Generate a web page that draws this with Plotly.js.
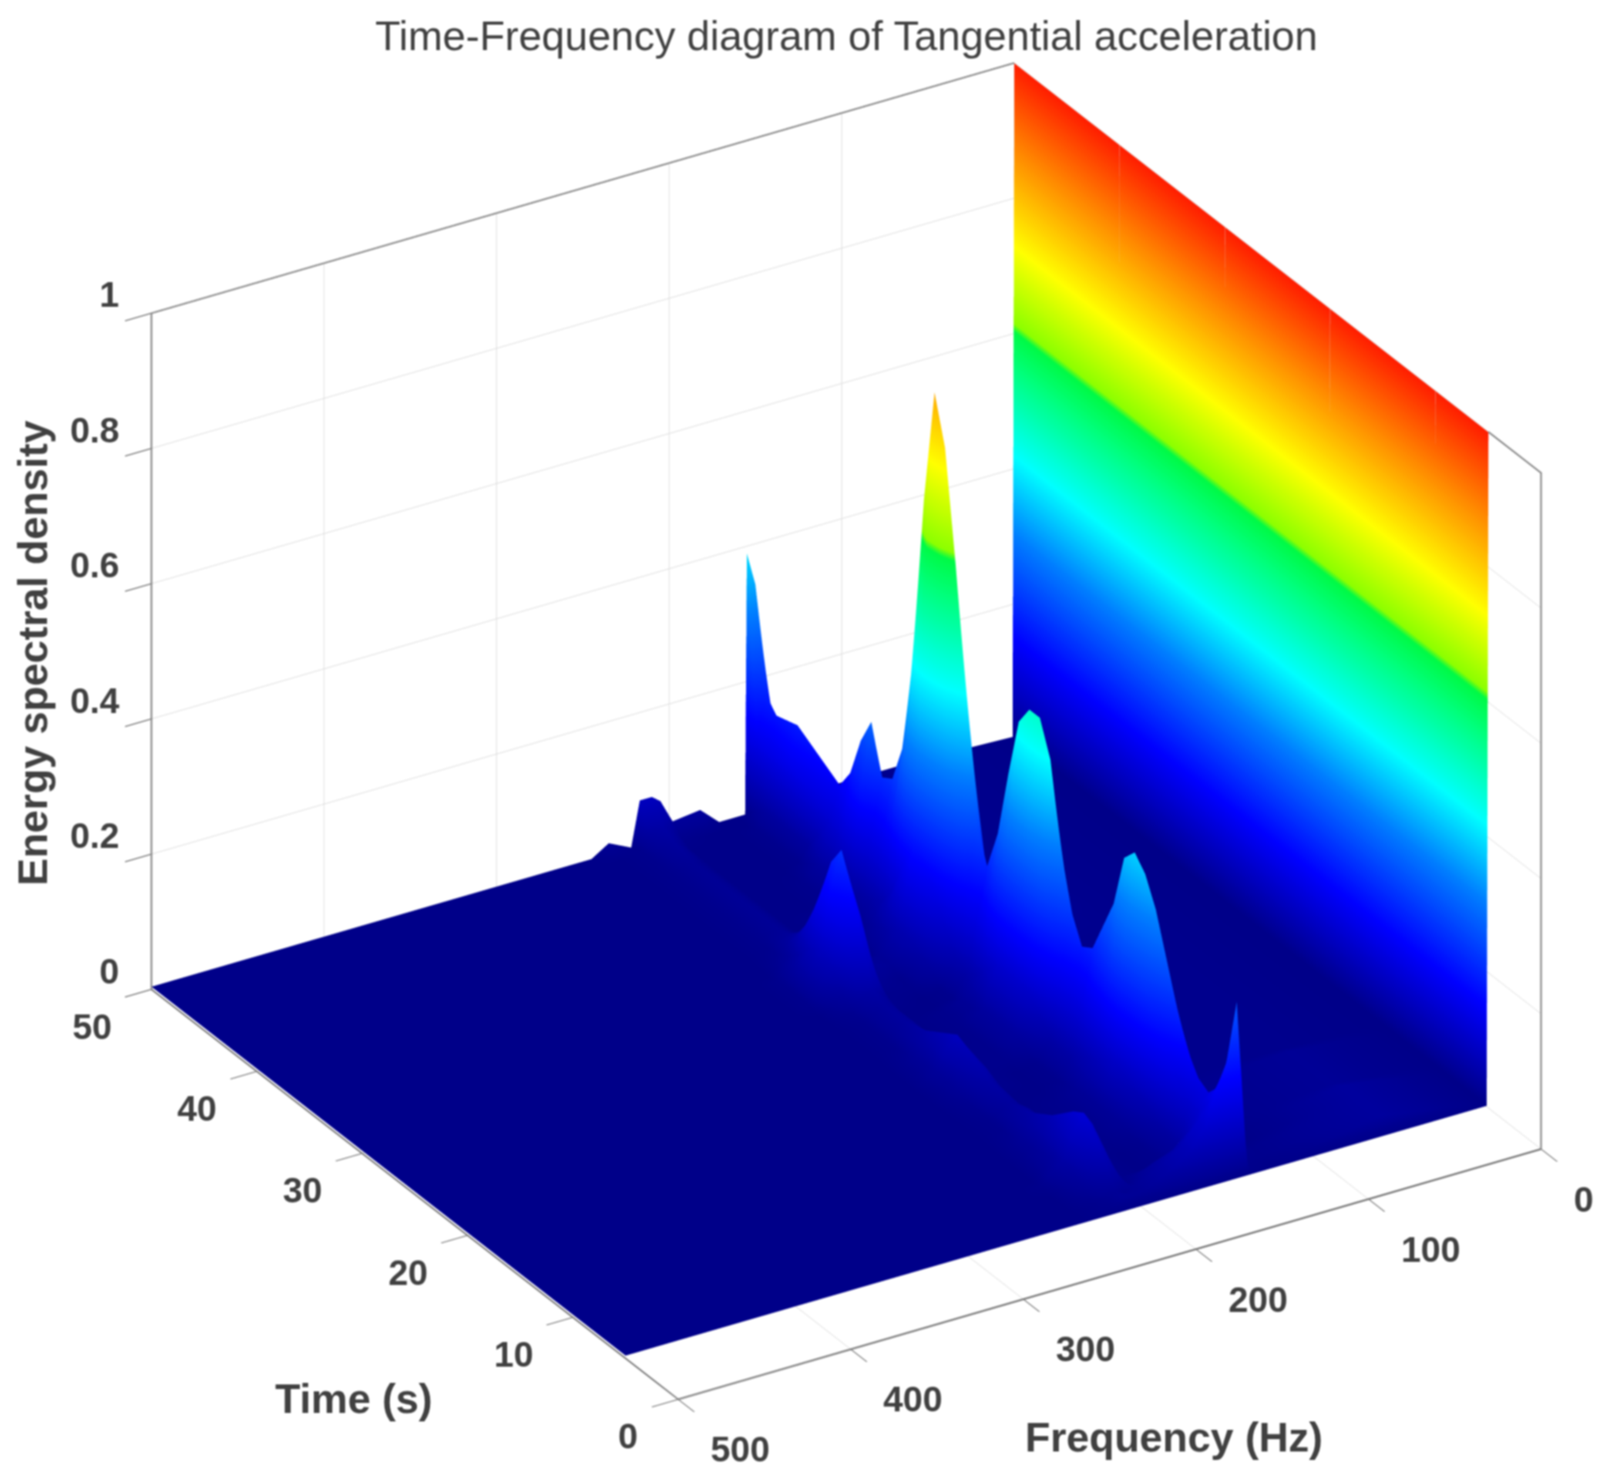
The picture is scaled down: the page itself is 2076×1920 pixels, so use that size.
<!DOCTYPE html>
<html><head><meta charset="utf-8">
<script src="https://cdn.plot.ly/plotly-3.0.1.min.js"></script>
<style>html,body{margin:0;padding:0;background:#fff}#chart{width:2076px;height:1920px;filter:blur(1.1px)}</style>
</head><body><div id="chart"></div>
<script>
const chartTitle = 'Time-Frequency diagram of Tangential acceleration';
const timeLabel = 'Time (s)';
const freqLabel = 'Frequency (Hz)';
const energyLabel = 'Energy spectral density';
const timeTicks = [0,10,20,30,40,50];
const freqTicks = [0,100,200,300,400,500];
const energyTicks = [0,0.2,0.4,0.6,0.8,1];
const freqHz = [0,1,60,125,138,144,150,155,156,162,171,182,198,205,210,217,222,235,245,500];
const timeS = [5,5.3,6,7,8,9,10,12,13,14,15,16,18,19,20,21,22,23,24,25,26,27,28,29,30,31,32,33,34,35,36,37,38,39,40,41,42,44,46,48,49,50];
const energy = [
[1,0,0,0,0,0,0,0,0,0,0,0,0,0,0,0,0,0,0,0],
[1,0,.03,0,.01,.26,.175,.145,.14,.09,.06,.04,.02,.02,.02,.01,.01,0,0,0],
[1,0,.03,.01,.01,.04,.13,.12,.11,.09,.06,.04,.02,.015,.02,.015,.01,0,0,0],
[1,0,.03,.01,.02,.06,.11,.1,.09,.06,.04,.03,.01,.04,.05,.035,.02,0,0,0],
[1,0,.03,0,.02,.08,.12,.09,.08,.03,.01,0,.01,.06,.08,.055,.03,0,0,0],
[1,0,.03,0,.03,.1,.15,.1,.1,.03,.01,0,.01,.08,.1,.07,.04,.01,0,0],
[1,0,.02,.01,.04,.13,.2,.14,.13,.04,.01,0,.01,.07,.09,.06,.03,0,0,0],
[1,0,.02,.01,.06,.21,.32,.22,.21,.06,.02,.01,.01,.045,.06,.04,.02,0,0,0],
[1,0,.02,.01,.07,.23,.36,.25,.23,.07,.02,.01,0,.04,.05,.035,.02,0,0,0],
[1,0,.02,.01,.08,.25,.38,.27,.25,.08,.02,.01,0,.03,.04,.03,.015,0,0,0],
[1,0,.01,.01,.07,.23,.36,.25,.23,.07,.02,.01,0,.03,.035,.025,.01,0,0,0],
[1,0,.01,.01,.06,.18,.28,.2,.18,.06,.02,.01,0,.025,.03,.02,.01,0,0,0],
[1,0,.01,.01,.04,.12,.19,.13,.12,.04,.01,0,0,.03,.04,.03,.015,0,0,0],
[1,0,.01,.01,.04,.12,.18,.13,.12,.04,.01,0,.01,.04,.05,.035,.02,0,0,0],
[1,0,.01,.01,.04,.14,.22,.15,.14,.04,.01,0,.01,.045,.06,.04,.02,0,0,0],
[1,0,.01,.01,.06,.2,.3,.21,.2,.06,.02,.01,.01,.05,.07,.05,.025,0,0,0],
[1,0,.01,.01,.08,.27,.42,.29,.27,.08,.03,.01,.01,.045,.06,.04,.02,0,0,0],
[1,0,.01,.01,.09,.31,.47,.33,.31,.09,.03,.01,.01,.04,.05,.035,.02,0,0,0],
[1,0,.01,.01,.09,.31,.47,.33,.31,.09,.03,.01,0,.03,.04,.03,.015,0,0,0],
[1,0,.01,.01,.09,.29,.44,.31,.29,.09,.03,.01,0,.025,.035,.025,.01,0,0,0],
[1,0,.01,.01,.07,.23,.35,.25,.23,.07,.02,.01,0,.025,.03,.02,.01,0,0,0],
[1,0,.01,.01,.05,.16,.25,.18,.16,.05,.02,.01,0,.025,.03,.02,.01,0,0,0],
[1,0,.01,.01,.04,.12,.19,.13,.12,.04,.01,0,0,.025,.03,.02,.01,0,0,0],
[1,0,.01,.01,.05,.16,.24,.17,.16,.05,.01,0,.01,.03,.04,.03,.015,0,0,0],
[1,0,.01,.01,.08,.27,.42,.29,.27,.08,.03,.01,.01,.07,.09,.065,.03,0,0,0],
[1,0,.01,.02,.12,.39,.6,.42,.39,.12,.04,.01,.02,.12,.16,.11,.06,.01,0,0],
[1,0,.01,.02,.15,.49,.76,.53,.49,.15,.05,.02,.03,.16,.21,.15,.07,.01,0,0],
[1,0,.01,.03,.17,.54,.83,.58,.54,.17,.05,.02,.02,.14,.18,.13,.06,.01,0,0],
[1,0,.01,.02,.13,.43,.66,.46,.43,.13,.04,.01,.01,.09,.12,.085,.04,.01,0,0],
[1,0,.01,.01,.08,.27,.42,.29,.27,.08,.03,.01,.01,.05,.07,.05,.025,0,0,0],
[1,0,.01,.01,.05,.18,.27,.19,.18,.05,.02,.01,0,.03,.04,.03,.015,0,0,0],
[1,0,.01,.01,.04,.14,.21,.15,.14,.04,.01,0,0,.02,.025,.02,.01,0,0,0],
[1,0,.01,.01,.04,.13,.2,.14,.13,.04,.01,0,0,.015,.02,.015,.01,0,0,0],
[1,0,.01,.01,.05,.18,.27,.19,.18,.05,.02,.01,0,.015,.02,.015,.01,0,0,0],
[1,0,.01,.01,.05,.15,.23,.16,.15,.05,.01,0,0,.015,.02,.015,.01,0,0,0],
[1,0,.01,.01,.03,.11,.17,.12,.11,.03,.01,0,0,.015,.02,.015,.01,0,0,0],
[1,0,.01,0,.03,.09,.14,.1,.09,.03,.01,0,0,.015,.02,.015,.01,0,0,0],
[1,0,.01,0,.03,.1,.16,.11,.03,.01,0,0,0,.015,.02,.015,.01,0,0,0],
[1,0,.01,.01,.04,.12,.18,.13,.03,.01,0,0,0,.015,.02,.015,.01,0,0,0],
[1,0,.01,.01,.03,.11,.17,.12,.03,.01,0,0,0,.02,.03,.02,.01,0,0,0],
[1,0,.01,.01,.04,.12,.19,.13,.02,0,0,0,.01,.03,.04,.03,.01,0,0,0],
[1,0,.01,.01,.06,.2,.34,.39,0,0,0,.03,.025,.06,.07,.07,0,.02,0,0]
];
const boxT = [50,50,null,5,0,0];
const boxF = [500,0,null,0,0,0];
const boxZ = [1,1,null,1,1,0];
const jetStops = [[0,'rgb(0,0,135)'],[.15,'rgb(0,0,255)'],[.3,'rgb(0,125,255)'],[.42,'rgb(0,255,255)'],[.55,'rgb(0,255,125)'],[.605,'rgb(0,250,70)'],[.615,'rgb(140,255,0)'],[.73,'rgb(255,255,0)'],[.87,'rgb(255,140,0)'],[1,'rgb(255,30,0)']];

const tickFont = {family:'Liberation Sans',size:46,color:'#404040',weight:700};
const floorLift = 0.004;
function axisOpts(ticks, range){
  return {range:range,tickmode:'array',tickvals:ticks,showticklabels:false,title:{text:''},
    showgrid:true,gridcolor:'#dcdcdc',gridwidth:2,showline:true,linecolor:'#777777',linewidth:5,
    ticks:'outside',ticklen:40,tickwidth:3,tickcolor:'#777777',
    showbackground:false,zeroline:false,showspikes:false};
}
const surfaceZ = freqHz.map((_,j)=>timeS.map((_,i)=>Math.max(energy[i][j],floorLift)));
const data = [
 {type:'surface',x:timeS,y:freqHz,z:surfaceZ,colorscale:jetStops,cmin:0,cmax:1,showscale:false,hoverinfo:'skip',
  lighting:{ambient:1,diffuse:0,specular:0,roughness:1,fresnel:0}},
 {type:'scatter3d',mode:'lines',x:boxT,y:boxF,z:boxZ,connectgaps:false,line:{color:'#666666',width:4},hoverinfo:'skip',showlegend:false}
];
const tickNotes = [
 ...timeTicks.map(t=>({x:t,y:500,z:0,text:String(t),xanchor:'right',yanchor:'middle',xshift:-50,yshift:-48,showarrow:false,font:tickFont})),
 ...freqTicks.map(f=>({x:0,y:f,z:0,text:String(f),xanchor:'left',yanchor:'middle',xshift:40,yshift:-65,showarrow:false,font:tickFont})),
 ...energyTicks.map(e=>({x:50,y:500,z:e,text:String(e),xanchor:'right',yanchor:'middle',xshift:-40,yshift:24,showarrow:false,font:tickFont}))
];
const layout = {
 width:2076,height:1920,margin:{l:0,r:0,t:0,b:0},paper_bgcolor:'#fff',showlegend:false,
 title:{text:chartTitle,x:0.529,xanchor:'center',y:0.976,yanchor:'middle',font:{family:'Liberation Sans',size:53.8,color:'#404040'}},
 scene:{domain:{x:[0.058,1],y:[0.012,1]},
  aspectmode:'manual',aspectratio:{x:1.383,y:1.383,z:1.051},
  camera:{projection:{type:'orthographic'},up:{x:0,y:0,z:1},center:{x:0,y:0,z:0},eye:{x:-1.502,y:0.917,z:0.95}},
  xaxis:axisOpts(timeTicks,[0,50]),yaxis:axisOpts(freqTicks,[0,500]),zaxis:axisOpts(energyTicks,[0,1]),
  annotations:tickNotes},
 annotations:[
  {xref:'paper',yref:'paper',x:459/2076,y:1-1814/1920,xanchor:'center',yanchor:'middle',text:timeLabel,showarrow:false,font:{family:'Liberation Sans',size:53.5,color:'#404040',weight:700}},
  {xref:'paper',yref:'paper',x:1523/2076,y:1-1864/1920,xanchor:'center',yanchor:'middle',text:freqLabel,showarrow:false,font:{family:'Liberation Sans',size:53.5,color:'#404040',weight:700}},
  {xref:'paper',yref:'paper',x:42/2076,y:1-847/1920,xanchor:'center',yanchor:'middle',text:energyLabel,textangle:-90,showarrow:false,font:{family:'Liberation Sans',size:53.5,color:'#404040',weight:700}}
 ]
};
Plotly.newPlot('chart',data,layout,{displayModeBar:false});
</script></body></html>
